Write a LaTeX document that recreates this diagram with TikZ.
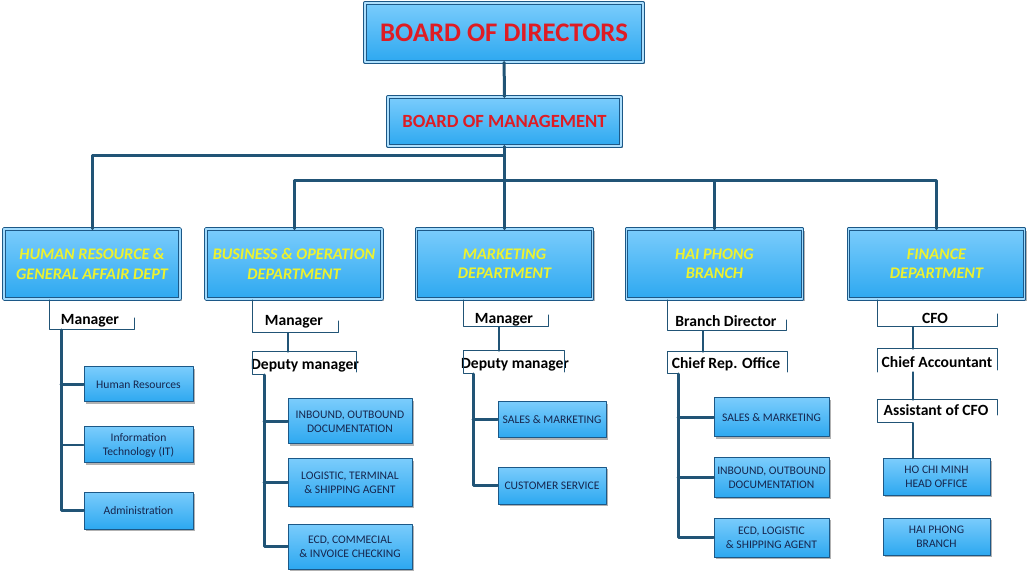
\documentclass[tikz,border=0pt]{standalone}
\usepackage{fontspec}
\setmainfont{Carlito}
\usetikzlibrary{shadows}

\definecolor{linec}{RGB}{33,84,118}
\definecolor{edgec}{RGB}{28,88,135}
\definecolor{filltop}{RGB}{122,204,252}
\definecolor{fillbot}{RGB}{45,168,240}
\definecolor{deptyel}{RGB}{238,242,46}
\definecolor{boardred}{RGB}{222,28,36}
\definecolor{subtext}{RGB}{22,38,78}

\tikzset{
  box/.style={rectangle, draw=edgec, top color=filltop, bottom color=fillbot,
    align=center, inner sep=1pt,
    drop shadow={shadow xshift=1pt, shadow yshift=-1pt, fill=black, opacity=0.3}},
  boardbox/.style={box, line width=0.5pt, double=filltop!60, double distance=1pt,
    text=boardred},
  deptbox/.style={box, line width=0.45pt, double=filltop!70, double distance=0.9pt,
    minimum width=88pt, minimum height=35pt, text=deptyel,
    font=\bfseries\itshape\fontsize{8.1}{9.6}\selectfont},
  subbox/.style={box, line width=0.5pt, text=subtext,
    font=\fontsize{5.8}{7}\selectfont},
  post/.style={font=\bfseries\fontsize{7.8}{9}\selectfont, inner sep=0pt},
  link/.style={draw=linec, line width=1.5pt},
  thinlink/.style={draw=linec, line width=0.6pt},
  bracket/.style={draw=linec, line width=0.5pt},
}

\begin{document}
\begin{tikzpicture}[x=0.5pt, y=-0.5pt, line cap=round, line join=round]
  \useasboundingbox (0,0) rectangle (1029,572);

  % Boards
  \node[boardbox, minimum width=139pt, minimum height=29.5pt,
    font=\bfseries\fontsize{13.4}{15}\selectfont] (bod) at (504,32.5) {BOARD OF DIRECTORS};
  \node[boardbox, minimum width=116.5pt, minimum height=24.5pt,
    font=\bfseries\fontsize{9.3}{11}\selectfont] (bom) at (504.5,121.5) {BOARD OF MANAGEMENT};

  % Departments
  \node[deptbox] (hr)  at (92,264)    {HUMAN RESOURCE \&\\GENERAL AFFAIR DEPT};
  \node[deptbox] (bus) at (294,264)   {BUSINESS \& OPERATION\\DEPARTMENT};
  \node[deptbox] (mkt) at (504.5,264) {MARKETING\\DEPARTMENT};
  \node[deptbox] (hp)  at (714.5,264) {HAI PHONG\\BRANCH};
  \node[deptbox] (fin) at (936.5,264) {FINANCE\\DEPARTMENT};

  \coordinate (j1) at (504.5,156);
  \coordinate (j2) at (504.5,181);
  \draw[link] (bod) -- (bom);
  \draw[link] (bom) -- (mkt);
  \draw[link] (j1) -| (hr);
  \draw[link] (bus) |- (j2) -| (fin);
  \draw[link] (j2 -| hp) -- (hp);

  % Human resource
  \node[post] (hrmgr) at (90,321) {Manager};
  \draw[bracket] (49,300) -- (49,330) -- (134,330) -- (134,318);
  \coordinate (hrs) at (61,330);
  \node[subbox, minimum width=54.5pt, minimum height=17.5pt] (hr1) at (138.5,384.5) {Human Resources};
  \node[subbox, minimum width=54.5pt, minimum height=18pt] (hr2) at (138.5,445) {Information\\Technology (IT)};
  \node[subbox, minimum width=54.5pt, minimum height=18.5pt] (hr3) at (138.5,510.5) {Administration};
  \draw[link] (hrs) |- (hr3);
  \draw[link] (hrs |- hr1) -- (hr1);
  \draw[thinlink] (hrs |- hr2) -- (hr2);

  % Business & operation
  \node[post] (busmgr) at (294,322) {Manager};
  \draw[bracket] (252,300) -- (252,333) -- (338,333) -- (338,321);
  \draw[thinlink] (288,333) -- (288,352);
  \node[post] (busdep) at (305,366) {Deputy manager};
  \draw[bracket] (264,375) -- (252,375) -- (252,352) -- (356,352) -- (356,372);
  \coordinate (buss) at (264,375);
  \node[subbox, minimum width=62pt, minimum height=22.5pt] (b1) at (350,421.5) {INBOUND, OUTBOUND\\DOCUMENTATION};
  \node[subbox, minimum width=62pt, minimum height=23.5pt] (b2) at (350,482.5) {LOGISTIC, TERMINAL\\\& SHIPPING AGENT};
  \node[subbox, minimum width=62pt, minimum height=22.5pt] (b3) at (350,546.5) {ECD, COMMECIAL\\\& INVOICE CHECKING};
  \draw[link] (buss) |- (b3);
  \draw[link] (buss |- b1) -- (b1);
  \draw[link] (buss |- b2) -- (b2);

  % Marketing
  \node[post] (mktmgr) at (504,320) {Manager};
  \draw[bracket] (463,300) -- (463,327) -- (548,327) -- (548,315);
  \draw[thinlink] (499,327) -- (499,351);
  \node[post] (mktdep) at (515,365) {Deputy manager};
  \draw[bracket] (473,374) -- (463,374) -- (463,351) -- (564,351) -- (564,372);
  \coordinate (mkts) at (473,374);
  \node[subbox, minimum width=54pt, minimum height=18pt] (m1) at (552,420) {SALES \& MARKETING};
  \node[subbox, minimum width=54pt, minimum height=18.5pt] (m2) at (552,485.5) {CUSTOMER SERVICE};
  \draw[link] (mkts) |- (m2);
  \draw[link] (mkts |- m1) -- (m1);

  % Hai Phong branch
  \node[post] (hpdir) at (726,321) {Branch Director};
  \draw[bracket] (667,300) -- (667,331) -- (786,331) -- (786,320);
  \draw[thinlink] (703,331) -- (703,352);
  \node[post] (hpchief) at (726,364) {Chief Rep. Office};
  \draw[bracket] (678,374) -- (667,374) -- (667,352) -- (787,352) -- (787,372);
  \coordinate (hps) at (678,374);
  \node[subbox, minimum width=57.5pt, minimum height=19.5pt] (p1) at (771.5,417.5) {SALES \& MARKETING};
  \node[subbox, minimum width=57.5pt, minimum height=19.5pt] (p2) at (771.5,477.5) {INBOUND, OUTBOUND\\DOCUMENTATION};
  \node[subbox, minimum width=57.5pt, minimum height=19.5pt] (p3) at (771.5,537.5) {ECD, LOGISTIC\\\& SHIPPING AGENT};
  \draw[link] (hps) |- (p3);
  \draw[link] (hps |- p1) -- (p1);
  \draw[link] (hps |- p2) -- (p2);

  % Finance
  \node[post] (cfo) at (935,318) {CFO};
  \draw[bracket] (877,300) -- (877,327) -- (997,327) -- (997,314);
  \draw[thinlink] (913,327) -- (913,349);
  \node[post] (chiefacc) at (937,362) {Chief Accountant};
  \draw[bracket] (877,372) -- (877,349) -- (997,349) -- (997,370);
  \draw[thinlink] (913,372) -- (913,400);
  \node[post] (asscfo) at (936,410) {Assistant of CFO};
  \draw[bracket] (997,415) -- (997,400) -- (877,400) -- (877,423) -- (913,423);
  \coordinate (fins) at (913,423);
  \node[subbox, minimum width=53.5pt, minimum height=18pt] (f1) at (936.5,477) {HO CHI MINH\\HEAD OFFICE};
  \node[subbox, minimum width=53.5pt, minimum height=18.5pt] (f2) at (936.5,536.5) {HAI PHONG\\BRANCH};
  \draw[thinlink] (fins) -- (fins |- f1.north);
\end{tikzpicture}
\end{document}
